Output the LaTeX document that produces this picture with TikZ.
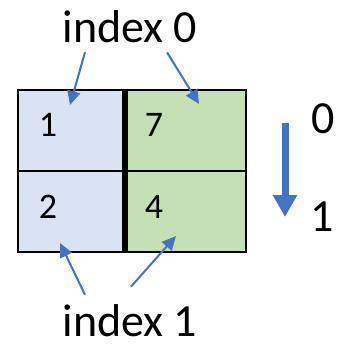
\documentclass[tikz,border=0pt]{standalone}
\usepackage{fontspec}
\setmainfont{Carlito}
\usepackage{xcolor}
\usepackage{tikz}
\usetikzlibrary{arrows.meta,calc}
\definecolor{rowblue}{HTML}{DAE3F3}
\definecolor{rowgreen}{HTML}{C5E0B4}
\definecolor{pointer}{HTML}{4472C4}
\newcommand{\labelsize}{\fontsize{46}{52}\selectfont}
\newcommand{\valsize}{\fontsize{36}{40}\selectfont}

\begin{document}
\begin{tikzpicture}[x=1pt,y=-1pt]
        \useasboundingbox (0,0) rectangle (343,345);
        \tikzstyle{every node}=[inner sep=0pt]
        \tikzstyle{cell}=[draw, line width=2pt, minimum height=81pt]
        % the cells
        \node[cell, fill=rowblue,  minimum width=106pt] (a0) at (71,130.5)  {};
        \node[cell, fill=rowblue,  minimum width=106pt] (a1) at (71,211.5)  {};
        \node[cell, fill=rowgreen, minimum width=122pt] (b0) at (185,130.5) {};
        \node[cell, fill=rowgreen, minimum width=122pt] (b1) at (185,211.5) {};
        \draw[line width=6pt] (a0.north east) -- (a1.south east);
        % values
        \node (v1) at (48,125)  {\valsize 1};
        \node (v7) at (154,125) {\valsize 7};
        \node (v2) at (48,207)  {\valsize 2};
        \node (v4) at (154,207) {\valsize 4};
        % labels
        \node (idx0) at (130,27)  {\labelsize index 0};
        \node (idx1) at (130,321) {\labelsize index 1};
        \node (ax0)  at (323,119) {\labelsize 0};
        \node (ax1)  at (322,217) {\labelsize 1};
        \tikzstyle{every path}=[pointer, line width=2pt, -{Triangle[length=14pt,width=13pt]}]
        \draw ($(idx0.south)+(-45,9)$) -- ($(a0.north)+(-1,16)$);
        \draw ($(idx0.south)+(37,9)$) -- ($(b0.north)+(14,15)$);
        \draw ($(idx1.north)+(-45,-10)$) -- ($(a1.south)+(-11,-10)$);
        \draw ($(idx1.north)+(1,-18)$) -- ($(b1.south)+(-9,-17)$);
        \coordinate (top) at (285,123);
        \coordinate (bot) at (285,217);
        \draw[line width=7pt, -{Triangle[length=22pt,width=23pt]}] (top) -- (bot);
    \end{tikzpicture}
\end{document}
